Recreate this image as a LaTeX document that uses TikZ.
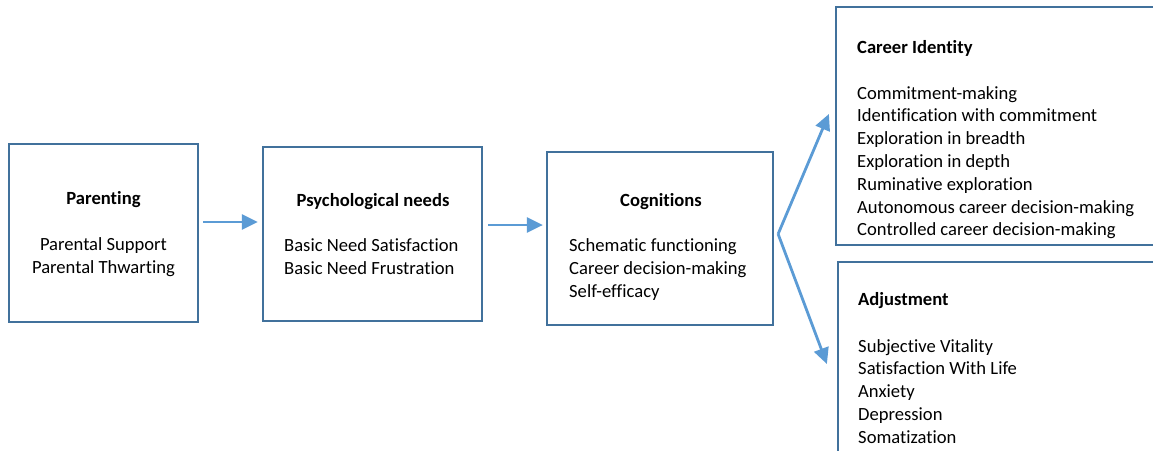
\documentclass[tikz,border=0pt]{standalone}
\usepackage{fontspec}
\setmainfont[Ligatures=NoCommon]{Carlito}
\usetikzlibrary{arrows.meta}

\definecolor{boxline}{HTML}{41719C}
\definecolor{flowline}{HTML}{5B9BD5}

\tikzset{
	box/.style={draw=boxline, line width=2.2pt, rectangle, inner sep=0pt},
	flow/.style={draw=flowline, fill=flowline, line width=2.8pt, -{Triangle[length=16pt,width=15pt]}},
	txt/.style={font=\fontsize{18.6pt}{22.8pt}\selectfont, inner sep=0pt},
	title/.style={txt, font=\fontsize{18.6pt}{22.8pt}\selectfont\bfseries},
}

\begin{document}
\begin{tikzpicture}[x=1pt,y=-1pt]
		\useasboundingbox (0,0) rectangle (1153,450);
		\clip (0,0) rectangle (1153,450);
		% boxes
		\node[box, minimum width=189pt, minimum height=178pt] (parenting) at (103.5,233) {};
		\node[box, minimum width=219pt, minimum height=174pt] (needs) at (372.5,234) {};
		\node[box, minimum width=226pt, minimum height=173pt] (cognitions) at (660,238.5) {};
		\node[box, minimum width=330pt, minimum height=238pt] (career) at (1001,126) {};
		\node[box, minimum width=328pt, minimum height=210pt] (adjustment) at (1002,367) {};
		% texts
		\node[title, anchor=base] (parentingT) at (103.5,204) {Parenting};
		\node[txt, anchor=base] (parenting1) at (103.5,250) {Parental Support};
		\node[txt, anchor=base] (parenting2) at (103.5,273) {Parental Thwarting};
		\node[title, anchor=base] (needsT) at (373,206) {Psychological needs};
		\node[txt, anchor=base west] (needs1) at (284,251) {Basic Need Satisfaction};
		\node[txt, anchor=base west] (needs2) at (284,274) {Basic Need Frustration};
		\node[title, anchor=base] (cognitionsT) at (661,206) {Cognitions};
		\foreach \t [count=\i] in {Schematic functioning, Career decision-making, Self-efficacy}
			\node[txt, anchor=base west] (cognitions\i) at (569,{251+23*(\i-1)}) {\t};
		\node[title, anchor=base west] (careerT) at (857,53) {Career Identity};
		\foreach \t [count=\i] in {Commitment-making, Identification with commitment, Exploration in breadth,
			Exploration in depth, Ruminative exploration, Autonomous career decision-making,
			Controlled career decision-making}
			\node[txt, anchor=base west] (career\i) at (857,{99+22.8*(\i-1)}) {\t};
		\node[title, anchor=base west] (adjustmentT) at (858,305) {Adjustment};
		\foreach \t [count=\i] in {Subjective Vitality, Satisfaction With Life, Anxiety, Depression, Somatization}
			\node[txt, anchor=base west] (adjustment\i) at (858,{352+22.8*(\i-1)}) {\t};
		% arrows
		\draw[flow] ([xshift=4pt,yshift=11pt]parenting.east) -- ([xshift=-4pt,yshift=11pt]parenting.east -| needs.west);
		\draw[flow] ([xshift=5pt,yshift=9pt]needs.east) -- ([xshift=-3pt,yshift=9pt]needs.east -| cognitions.west);
		\draw[flow] ([xshift=4pt,yshift=4.5pt]cognitions.east) -- ([xshift=-6pt,yshift=12pt]career.west);
		\draw[flow] ([xshift=4pt,yshift=4.5pt]cognitions.east) -- ([xshift=-10pt,yshift=3pt]adjustment.west);
	\end{tikzpicture}
\end{document}
